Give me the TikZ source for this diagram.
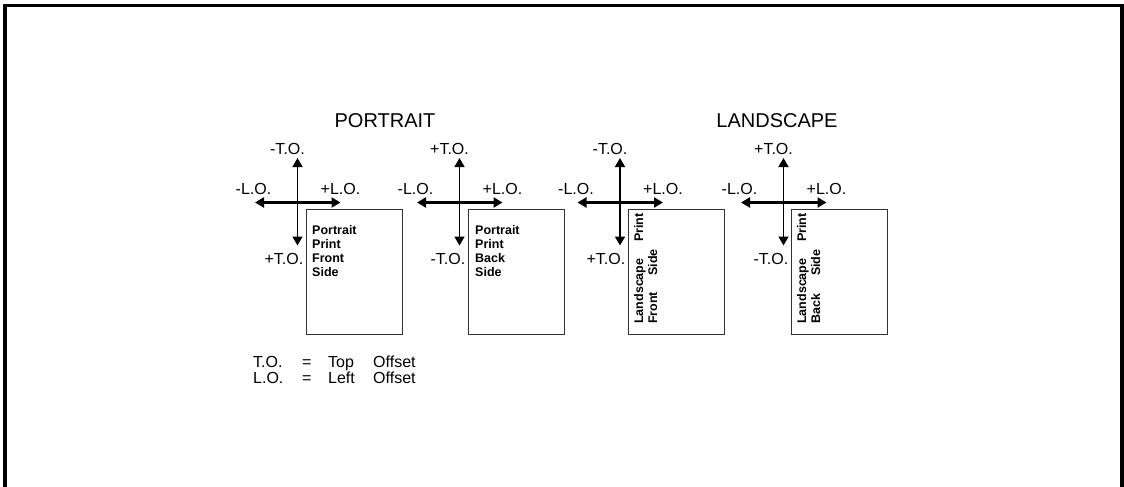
\documentclass[tikz,border=0pt]{standalone}
\usepackage{fontspec}
\setmainfont{Liberation Sans}
\usetikzlibrary{arrows.meta}

\tikzset{
  offarrow/.style={{Triangle[length=9pt,width=10pt]}-{Triangle[length=9pt,width=10pt]}},
  lbl/.style={font=\fontsize{16}{19}\selectfont, inner sep=0pt},
  ttl/.style={font=\fontsize{20}{24}\selectfont, inner sep=0pt},
  sheet/.style={draw=black!80, line width=0.8pt, minimum width=96pt, minimum height=125pt, inner sep=0pt, outer sep=0pt, anchor=north west},
  boxtxt/.style={font=\bfseries\fontsize{12.5}{14}\selectfont, inner sep=0pt, align=left},
}

\begin{document}
\begin{tikzpicture}[x=1pt,y=-1pt]
\useasboundingbox (0,0) rectangle (1124,487);
% outer frame, open at the bottom
\draw[line width=3.5pt] (5,487) -- (5,5.5) -- (1122,5.5) -- (1122,487);

\node[ttl] (portrait) at (385,121) {PORTRAIT};
\node[ttl] (landscape) at (777,121) {LANDSCAPE};

\foreach \i/\sx in {1/306,2/468,3/628,4/791}
    \node[sheet] (sheet\i) at (\sx,209) {};

\foreach \i/\vx/\sx/\tsgn/\bsgn in {1/297.5/306/-/+, 2/459.5/468/+/-, 3/620/628/-/+, 4/783.5/791/+/-} {
    \coordinate (t\i) at (\vx,158);
    \coordinate (b\i) at (\vx,245.5);
    \coordinate (l\i) at (\vx-42.5,202.5);
    \coordinate (r\i) at (\vx+43,202.5);
    \draw[offarrow, line width=1.6pt] (t\i) -- (b\i);
    \draw[offarrow, line width=2.4pt] (l\i) -- (r\i);
    \node[lbl] (tlbl\i) at (\vx-10,149) {\tsgn T.O.};
    \node[lbl] (llbl\i) at (\vx-44,189) {-L.O.};
    \node[lbl] (rlbl\i) at (\vx+43,189) {+L.O.};
    \node[lbl, anchor=east] (blbl\i) at (\sx-2.5,259) {\bsgn T.O.};
}

% sheet texts
\node[boxtxt, anchor=north west] (pfront) at (312,225) {Portrait\\Print\\Front\\Side};
\node[boxtxt, anchor=north west] (pback) at (475,225) {Portrait\\Print\\Back\\Side};
\node[boxtxt, rotate=90, anchor=base west] (lfront1) at (643,324) {\makebox[82pt][l]{Landscape}Print};
\node[boxtxt, rotate=90, anchor=base west] (lfront2) at (657,324) {\makebox[48pt][l]{Front}Side};
\node[boxtxt, rotate=90, anchor=base west] (lback1) at (806,324) {\makebox[82pt][l]{Landscape}Print};
\node[boxtxt, rotate=90, anchor=base west] (lback2) at (820,324) {\makebox[48pt][l]{Back}Side};

% legend
\foreach \n/\y/\ab/\wrd in {1/367/T.O./Top, 2/383/L.O./Left} {
    \node[lbl, anchor=base west] (abbr\n) at (253,\y) {\ab};
    \node[lbl, anchor=base west] (eq\n) at (302,\y) {=};
    \node[lbl, anchor=base west] (word\n) at (328,\y) {\wrd};
    \node[lbl, anchor=base west] (offs\n) at (373,\y) {Offset};
}
\end{tikzpicture}
\end{document}
